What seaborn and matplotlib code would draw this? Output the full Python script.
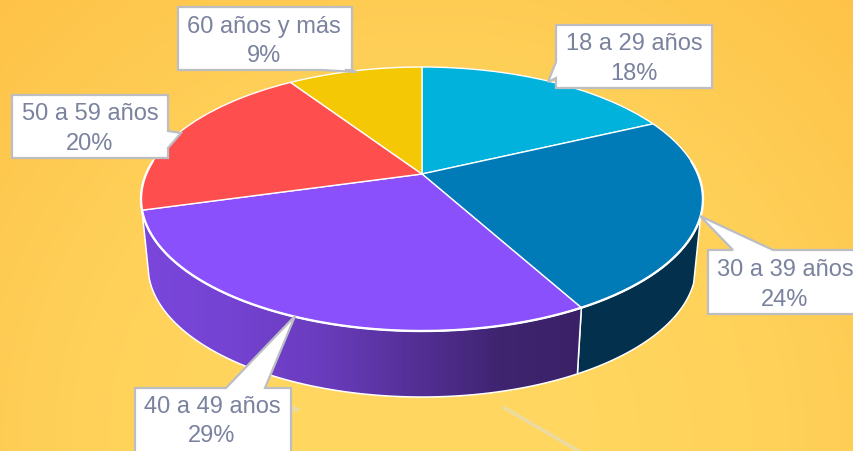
import numpy as np
import matplotlib
matplotlib.use("Agg")
import matplotlib.pyplot as plt
import seaborn as sns
from matplotlib.colors import LinearSegmentedColormap
from matplotlib.patches import Polygon
from matplotlib.transforms import Affine2D, Transform

# --- data -----------------------------------------------------------------
categories = ["18 a 29 años", "30 a 39 años", "40 a 49 años", "50 a 59 años", "60 años y más"]
label_pct = [18, 24, 29, 20, 9]
slice_sizes = [18.0, 24.0, 28.65, 20.05, 9.3]
top_colors = ["#00b2dc", "#007bb8", "#8a50fc", "#fe4e4e", "#f4c805"]

# --- callout layout (pixels): box l, t, r, b, pointer base a, b, tip, text centre x, baseline y
callouts = [
    (556, 25, 712, 88, (556, 62), (556, 78), (548, 82), 634, 50),
    (708, 250, 860, 314, (733, 250), (773, 250), (700, 216), 785, 276),
    (135, 388, 291, 456, (226, 388), (265, 388), (295, 316), 212, 413),
    (12, 95, 168, 158, (168, 131), (168, 148), (181, 133), 90, 120),
    (178, 7, 352, 70, (322, 70), (345, 70), (357, 72), 264, 33),
]

sns.set_theme(style="white")
plt.rcParams["font.family"] = ["Liberation Sans", "DejaVu Sans"]
palette = sns.color_palette(top_colors)

fig = plt.figure(figsize=(8.54, 4.51), dpi=100)
ax = fig.add_axes([0, 0, 1, 1])

# --- background radial gradient ------------------------------------------
yy, xx = np.mgrid[0:451, 0:854]
dist = np.hypot(xx - 430, (yy - 440)) / 620
bg_cmap = LinearSegmentedColormap.from_list(
    "bg", [(1.0, 0.847, 0.38), (1.0, 0.82, 0.35), (0.996, 0.76, 0.28)]
)
ax.imshow(dist, cmap=bg_cmap, vmin=0.15, vmax=1.0, extent=(0, 854, 451, 0),
          aspect="auto", zorder=0, interpolation="bilinear")

# faint leader remnants
ax.plot([503, 582], [407, 453], color="#ecdba0", lw=2.6, solid_capstyle="butt", zorder=0.5)
ax.add_patch(Polygon([(291, 405), (301, 409), (291, 414)], closed=True, fc="#ecdba0", ec="none", zorder=0.5))

# --- perspective of the disc ---------------------------------------------
CX, CY, RX, RY = 422, 199, 281, 132
TILT = 25 / 132


def boost(x, y):
    d = 1 + TILT * y
    return x * np.sqrt(1 - TILT ** 2) / d, (y + TILT) / d


class Perspective(Transform):
    input_dims = output_dims = 2
    is_separable = False
    has_inverse = False

    def transform_non_affine(self, values):
        v = np.asarray(values, dtype=float)
        x, y = boost(v[:, 0], v[:, 1])
        return np.column_stack([x, y])


def top_xy(th):
    x, y = boost(np.sin(th), np.cos(th))
    return CX + RX * x, CY - RY * y


def bottom_xy(th):
    x, y = boost(np.sin(th), np.cos(th))
    y = np.minimum(y, 0)
    x = np.sign(x) * np.sqrt(np.clip(1 - y ** 2, 0, 1))
    return CX + 274 * x, 266 - 131 * y


cum = np.cumsum([0] + slice_sizes) / sum(slice_sizes) * 2 * np.pi


def side_poly(a, b, min_top_y=0):
    th = np.linspace(a, b, 400)
    th = th[top_xy(th)[1] >= min_top_y]
    tx, ty = top_xy(th)
    bx, by = bottom_xy(th)
    return np.column_stack([np.r_[tx, bx[::-1]], np.r_[ty, by[::-1]]])


# --- side walls ----------------------------------------------------------
navy = side_poly(cum[1], cum[2], min_top_y=216)
ax.add_patch(Polygon(navy, closed=True, fc="#02304d", ec="white", lw=1.1, zorder=1))

violet = side_poly(cum[2], cum[3])
violet_stops = ["#3a2166", "#3f2470", "#553098", "#6a3cbd", "#7443d2", "#7a46dc"]
violet_cmap = LinearSegmentedColormap.from_list("violet", violet_stops[::-1])
grad = np.linspace(0, 1, 512)[None, :]
img = ax.imshow(grad, cmap=violet_cmap, extent=(143, 590, 400, 200), aspect="auto", zorder=1)
clip = Polygon(violet, closed=True, fc="none", ec="white", lw=1.1, zorder=1.2)
ax.add_patch(clip)
img.set_clip_path(clip)

# --- top face ------------------------------------------------------------
wedges, _ = ax.pie(slice_sizes, colors=palette, startangle=90, counterclock=False, radius=1,
                   wedgeprops=dict(edgecolor="white", linewidth=1.0))
to_pixels = Perspective() + Affine2D().scale(RX, -RY).translate(CX, CY) + ax.transData
for w in wedges:
    w.set_transform(to_pixels)
    w.set_zorder(2)

th = np.linspace(np.pi / 2 - 0.1, 3 * np.pi / 2 + 0.1, 300)
ax.plot(*top_xy(th), color="white", lw=1.7, zorder=2.5)

# --- callouts ------------------------------------------------------------
for name, share, (l, t, r, b, pa, pb, tip, tx, ty) in zip(categories, label_pct, callouts):
    if pa[1] == t:
        outline = [(l, t), pa, tip, pb, (r, t), (r, b), (l, b)]
    elif pa[1] == b:
        outline = [(l, t), (r, t), (r, b), pb, tip, pa, (l, b)]
    elif pa[0] == l:
        outline = [(l, t), (r, t), (r, b), (l, b), pb, tip, pa]
    else:
        outline = [(l, t), (r, t), pa, tip, pb, (r, b), (l, b)]
    ax.add_patch(Polygon(outline, closed=True, fc="white", ec="#bcbec4", lw=1.6,
                         joinstyle="miter", zorder=3))
    for txt, base in ((name, ty), (f"{share}%", ty + 29.5)):
        ax.text(tx, base, txt, ha="center", va="baseline", fontsize=17, color="#7a829e", zorder=4)

ax.set_aspect("auto")
ax.set_xlim(0, 854)
ax.set_ylim(451, 0)
ax.axis("off")
fig.savefig("out.png", dpi=100)
